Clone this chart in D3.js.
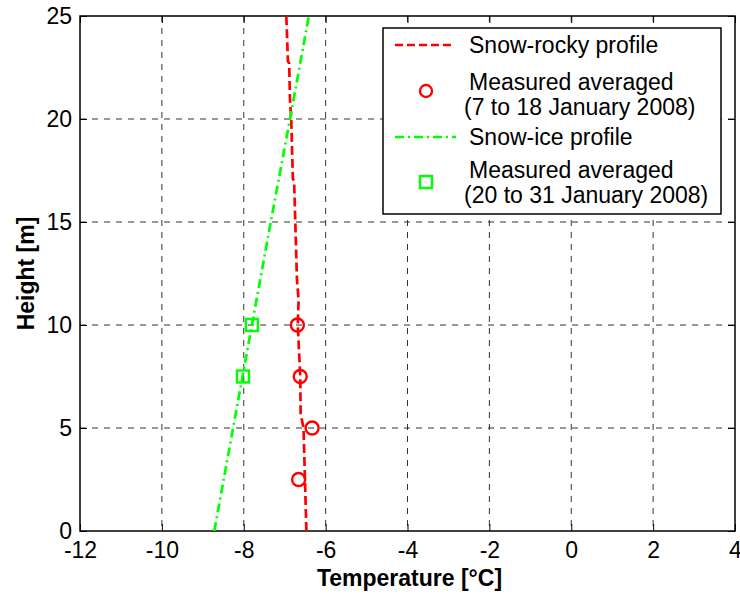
<!DOCTYPE html>
<html>
<head>
<meta charset="utf-8">
<script src="https://cdn.jsdelivr.net/npm/d3@7"></script>
<style>
  body { margin: 0; background: #fff; }
  svg text { font-family: "Liberation Sans", Arial, sans-serif; fill: #000; }
</style>
</head>
<body>
<div id="chart"></div>
<script>
// data
const rockyHeight = [0, 3.6, 5, 5.7, 7.5, 10, 11.2, 12.2, 17, 17.1, 20, 20.9, 22.7, 22.8, 25]
const rockyTemp   = [-6.47, -6.52, -6.54, -6.61, -6.62, -6.68, -6.66, -6.70, -6.77, -6.80, -6.84, -6.87, -6.89, -6.92, -6.96]
const iceHeight = [0, 5, 10, 15, 20, 25]
const iceTemp   = [-8.72, -8.26, -7.80, -7.34, -6.87, -6.41]
const measRockyHeight = [2.5, 5, 7.5, 10]
const measRockyTemp   = [-6.66, -6.33, -6.62, -6.69]
const measIceHeight = [7.5, 10]
const measIceTemp   = [-8.02, -7.80]
const xTicks = [-12, -10, -8, -6, -4, -2, 0, 2, 4]
const yTicks = [0, 5, 10, 15, 20, 25]
const legendLabels = [
  ["Snow-rocky profile"],
  ["Measured averaged", "(7 to 18 January 2008)"],
  ["Snow-ice profile"],
  ["Measured averaged", "(20 to 31 January 2008)"]
]

const anchoTotal = 740
const altoTotal = 594
const margins = { left: 80, top: 16, right: 5, bottom: 63 }
const ancho = anchoTotal - margins.left - margins.right
const alto = altoTotal - margins.top - margins.bottom
const fs = 23

const svg = d3.select("#chart")
  .append("svg")
  .attr("width", anchoTotal)
  .attr("height", altoTotal)

const g = svg.append("g")
  .attr("transform", `translate(${margins.left}, ${margins.top})`)

const x = d3.scaleLinear().domain([-12, 4]).range([0, ancho])
const y = d3.scaleLinear().domain([0, 25]).range([alto, 0])

// grid
g.append("g")
  .selectAll("line")
  .data(xTicks.slice(1, -1))
  .join("line")
  .attr("x1", d => x(d)).attr("x2", d => x(d))
  .attr("y1", 0).attr("y2", alto)
  .attr("stroke", "#333").attr("stroke-width", 1)
  .attr("stroke-dasharray", "6,6")

g.append("g")
  .selectAll("line")
  .data(yTicks.slice(1, -1))
  .join("line")
  .attr("y1", d => y(d)).attr("y2", d => y(d))
  .attr("x1", 0).attr("x2", ancho)
  .attr("stroke", "#333").attr("stroke-width", 1)
  .attr("stroke-dasharray", "6,6")

// axes (ticks inside, MATLAB style)
const tl = 7
const fmt = d => String(d)
const xAxis = g.append("g")
  .attr("transform", `translate(0, ${alto})`)
  .call(d3.axisBottom(x).tickValues(xTicks).tickSize(-tl).tickFormat(fmt))
const yAxis = g.append("g")
  .call(d3.axisLeft(y).tickValues(yTicks).tickSize(-tl).tickPadding(8).tickFormat(fmt))
g.append("g")
  .call(d3.axisTop(x).tickValues(xTicks).tickSize(-tl).tickFormat(""))
g.append("g")
  .attr("transform", `translate(${ancho}, 0)`)
  .call(d3.axisRight(y).tickValues(yTicks).tickSize(-tl).tickFormat(""))

g.selectAll(".domain").remove()
g.selectAll(".tick line").attr("stroke", "#000")
g.selectAll(".tick text").attr("font-size", fs).attr("font-family", "Liberation Sans, Arial, sans-serif")
xAxis.selectAll(".tick text").attr("dy", "0.35em").attr("y", 19)
g.append("rect")
  .attr("width", ancho).attr("height", alto)
  .attr("fill", "none").attr("stroke", "#000").attr("stroke-width", 1.5)

// lines
const line = d3.line().x(d => x(d[1])).y(d => y(d[0]))

g.append("path")
  .datum(d3.zip(rockyHeight, rockyTemp))
  .attr("d", line)
  .attr("fill", "none").attr("stroke", "#ff0000").attr("stroke-width", 2.7)
  .attr("stroke-dasharray", "9,4")

g.append("path")
  .datum(d3.zip(iceHeight, iceTemp))
  .attr("d", line)
  .attr("fill", "none").attr("stroke", "#00ff00").attr("stroke-width", 2.7)
  .attr("stroke-dasharray", "9,4,2,4")

g.append("g")
  .selectAll("circle")
  .data(d3.zip(measRockyHeight, measRockyTemp))
  .join("circle")
  .attr("cx", d => x(d[1])).attr("cy", d => y(d[0]))
  .attr("r", 6.5)
  .attr("fill", "none").attr("stroke", "#ff0000").attr("stroke-width", 2.4)

g.append("g")
  .selectAll("rect")
  .data(d3.zip(measIceHeight, measIceTemp))
  .join("rect")
  .attr("x", d => x(d[1]) - 6).attr("y", d => y(d[0]) - 6)
  .attr("width", 12).attr("height", 12)
  .attr("fill", "none").attr("stroke", "#00ff00").attr("stroke-width", 2.4)

// axis labels
svg.append("text")
  .attr("x", margins.left + ancho / 2 + 2).attr("y", 586)
  .attr("text-anchor", "middle")
  .attr("font-size", fs).attr("font-weight", "bold")
  .text("Temperature [°C]")

svg.append("text")
  .attr("transform", `translate(34, ${margins.top + alto / 2}) rotate(-90)`)
  .attr("text-anchor", "middle")
  .attr("font-size", fs).attr("font-weight", "bold")
  .text("Height [m]")

// legend
const leg = svg.append("g").attr("transform", "translate(383, 28)")
leg.append("rect")
  .attr("width", 338).attr("height", 186)
  .attr("fill", "#fff").attr("stroke", "#000").attr("stroke-width", 1.5)

leg.append("line")
  .attr("x1", 12).attr("x2", 70).attr("y1", 17).attr("y2", 17)
  .attr("stroke", "#ff0000").attr("stroke-width", 2.5).attr("stroke-dasharray", "8,4")
leg.append("circle")
  .attr("cx", 43).attr("cy", 63).attr("r", 6)
  .attr("fill", "none").attr("stroke", "#ff0000").attr("stroke-width", 2.4)
leg.append("line")
  .attr("x1", 12).attr("x2", 73).attr("y1", 109).attr("y2", 109)
  .attr("stroke", "#00ff00").attr("stroke-width", 2.5).attr("stroke-dasharray", "9,4,2,4")
leg.append("rect")
  .attr("x", 37).attr("y", 148).attr("width", 12).attr("height", 12)
  .attr("fill", "none").attr("stroke", "#00ff00").attr("stroke-width", 2.4)

const legY = [[17], [54, 79], [109], [142, 167]]
legendLabels.forEach((lines, i) => {
  lines.forEach((t, j) => {
    leg.append("text")
      .attr("x", j === 0 ? 86 : 81).attr("y", legY[i][j])
      .attr("dy", "0.35em")
      .attr("font-size", fs)
      .text(t)
  })
})
</script>
</body>
</html>
